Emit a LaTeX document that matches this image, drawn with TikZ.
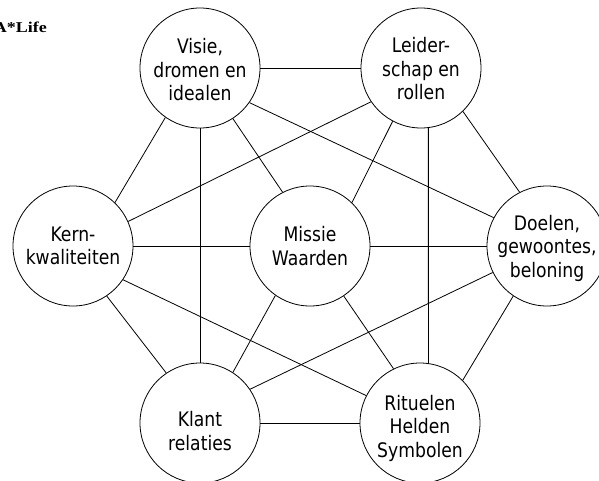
\documentclass[tikz,border=0pt]{standalone}
\usepackage{fontspec}
\setmainfont{DejaVu Sans}[FakeStretch=0.86]
\newfontfamily\titlefont{Liberation Serif}
\begin{document}
\begin{tikzpicture}[x=1pt,y=-1pt,
  topic/.style={circle, draw, line width=0.8pt, minimum size=120pt, inner sep=0pt},
  lbl/.style={align=center, inner sep=0pt, font=\fontsize{20}{23.5}\selectfont},
  link/.style={line width=0.8pt}]
\useasboundingbox (0,0) rectangle (599,480);
\clip (0,0) rectangle (599,480);
\fill[white] (0,0) rectangle (599,480);
\node[anchor=base east, font=\titlefont\fontsize{15}{18}\selectfont\bfseries, inner sep=0pt] (title) at (47,32) {\scalebox{1.2}[1]{A*Life}};
\node[topic] (visie) at (200,68) {};
\node[topic] (leider) at (421,68) {};
\node[topic] (kern) at (73,246) {};
\node[topic] (missie) at (310,246) {};
\node[topic] (doelen) at (547,246) {};
\node[topic] (klant) at (200,423) {};
\node[topic] (rit) at (420,423) {};
\node[lbl] (visieT) at (200,70) {Visie,\\dromen en\\idealen};
\node[lbl] (leiderT) at (421,69) {Leider-\\schap en\\rollen};
\node[lbl] (kernT) at (73,246) {Kern-\\kwaliteiten};
\node[lbl] (missieT) at (310,246) {Missie\\Waarden};
\node[lbl] (doelenT) at (547,248) {Doelen,\\gewoontes,\\beloning};
\node[lbl] (klantT) at (200,431) {Klant\\relaties};
\node[lbl] (ritT) at (420,428) {Rituelen\\Helden\\Symbolen};
\draw[link] (visie.east) -- (leider.west);
\draw[link] (visie.235) -- (kern.46);
\draw[link] (visie.south) -- (klant.north);
\draw[link] (visie.303) -- (missie.117);
\draw[link] (visie.325) -- (doelen.152);
\draw[link] (leider.214) -- (kern.24);
\draw[link] (leider.242) -- (missie.46);
\draw[link] (leider.-83.3) -- (rit.82.3);
\draw[link] (leider.314) -- (doelen.117);
\draw[link] (kern.east) -- (missie.west);
\draw[link] (kern.304) -- (klant.124);
\draw[link] (kern.326) -- (rit.153);
\draw[link] (missie.east) -- (doelen.west);
\draw[link] (missie.235) -- (klant.57);
\draw[link] (missie.304) -- (rit.116);
\draw[link] (doelen.206.6) -- (klant.34);
\draw[link] (doelen.236) -- (rit.45);
\draw[link] (klant.east) -- (rit.west);
\end{tikzpicture}
\end{document}
